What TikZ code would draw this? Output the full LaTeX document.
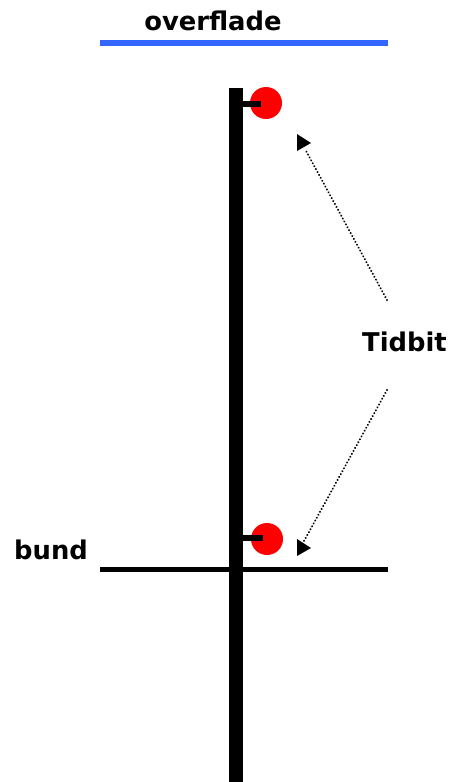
\documentclass[tikz,border=0pt]{standalone}
\usepackage{fontspec}
\setmainfont{DejaVu Sans}
\begin{document}
\begin{tikzpicture}[x=1pt,y=-1pt,
  lbl/.style={font=\bfseries\fontsize{25.8}{30}\selectfont, inner sep=0pt, anchor=base},
  dotline/.style={line width=2.2pt, dash pattern=on 0.01pt off 3.3pt, line cap=round},
  tipfill/.style={fill=black, draw=none},
  dot/.style={circle, fill=red, draw=none, minimum size=32pt, inner sep=0pt}]
\useasboundingbox (0,0) rectangle (450,782);
% surface (blue)
\coordinate (sL) at (100,43);
\coordinate (sR) at (388,43);
\draw[line width=6pt, color={rgb,255:red,51;green,102;blue,255}] (sL) -- (sR);
\node[lbl] (overflade) at (213,30) {overflade};
% bottom line
\coordinate (bL) at (100,569);
\coordinate (bR) at (388,569);
\draw[line width=5pt] (bL) -- (bR);
\node[lbl, anchor=base west] (bund) at (14,559) {bund};
% pole
\coordinate (pT) at (236,88);
\coordinate (pB) at (236,782);
\draw[line width=14pt] (pT) -- (pB);
% dots
\node[dot] (d1) at (266,103) {};
\node[dot] (d2) at (267,539) {};
\draw[line width=6pt] (243,104) -- (261,104);
\draw[line width=6pt] (243,538) -- (263,538);
% label
\node[lbl, anchor=base west] (tidbit) at (362,351) {Tidbit};
% arrows
\coordinate (a1s) at (387,300);
\coordinate (a1e) at (305,149);
\coordinate (a2s) at (387,390);
\coordinate (a2e) at (304,541);
\draw[dotline] (a1s) -- (a1e);
\draw[dotline] (a2s) -- (a2e);
\fill[tipfill] (297,134) -- (311,143) -- (297,151) -- cycle;
\fill[tipfill] (297,539) -- (311,548) -- (297,556) -- cycle;
\end{tikzpicture}
\end{document}
